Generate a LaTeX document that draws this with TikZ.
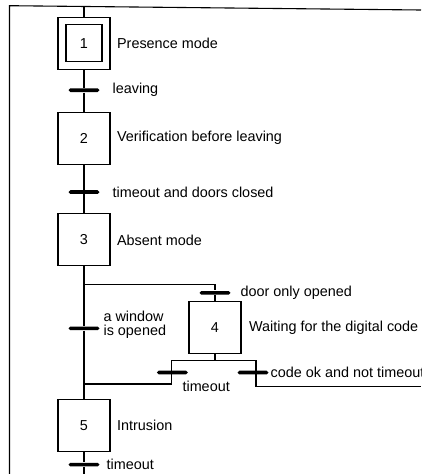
\documentclass[tikz,border=0pt]{standalone}
\usepackage{fontspec}
\setmainfont{Liberation Sans}
\usetikzlibrary{positioning}

\begin{document}
\begin{tikzpicture}[
  x=1pt, y=1pt,
  line width=1.1pt,
  every node/.style={font=\fontsize{14.4}{14.4}\selectfont},
  stepbox/.style={draw, minimum width=52pt, minimum height=52pt, inner sep=0pt},
  innerbox/.style={draw, minimum width=36pt, minimum height=37pt, inner sep=0pt},
  tbar/.style={fill, minimum width=31pt, minimum height=3.6pt, inner sep=0pt, rounded corners=1.8pt},
  txt/.style={inner sep=0pt, align=left}
]
\useasboundingbox (0,0) rectangle (421,-474);
\clip (0,0) rectangle (421,-474);

% steps and transitions
\node[stepbox] (s1) at (84,-43.3) {};
\node[innerbox] (s1i) at (s1) {1};
\node[tbar, below=18pt of s1] (t1) {};
\node[stepbox, below=19pt of t1] (s2) {2};
\node[tbar, below=25pt of s2] (t2) {};
\node[stepbox, below=19pt of t2] (s3) {3};
\node[tbar, below=59.5pt of s3] (tw) {};
\node[stepbox, below=68pt of tw] (s5) {5};
\node[tbar, below=10.5pt of s5] (t5) {};
\node[stepbox] (s4) at (215,-327.7) {4};
\node[tbar, above=6pt of s4] (td) {};
\node[tbar] (tto) at (172.3,-372.5) {};
\node[tbar] (tok) at (253,-372.5) {};

% texts
\node[txt, right=6pt of s1] (l1) {Presence mode};
\node[txt, right=12pt of t1] (lt1) {leaving};
\node[txt, right=6pt of s2] (l2) {Verification before leaving};
\node[txt, right=12pt of t2] (lt2) {timeout and doors closed};
\node[txt, right=6pt of s3] (l3) {Absent mode};
\node[txt, right=9pt of td] (ltd) {door only opened};
\node[txt, right=3pt of tw, yshift=3.3pt] (ltw) {a window\\is opened};
\node[txt, right=7pt of s4] (l4) {Waiting for the digital code};
\node[txt, anchor=base west] (lto) at (182,-391.5) {timeout};
\node[txt, right=1pt of tok] (lok) {code ok and not timeout};
\node[txt, right=6pt of s5] (l5) {Intrusion};
\node[txt, right=6pt of t5] (lt5) {timeout};

% corner points
\coordinate (top) at (84,-6.5);
\coordinate (tl) at (9.5,-5.7);
\coordinate (tr) at (421,-10);
\coordinate (bl) at (9.5,-474);
\coordinate (bot) at (84,-474);
\coordinate (d3) at (84,-284.7);
\coordinate (d4) at (215,-284.7);
\coordinate (j4) at (215,-360.5);
\coordinate (j4l) at (171.7,-360.5);
\coordinate (j4r) at (256,-360.5);
\coordinate (m5) at (84,-384);
\coordinate (okr) at (421,-386.7);

% links
\draw (bl) -- (tl) -- (tr);
\draw (top) -- (s1);
\draw (s1) -- (t1) -- (s2) -- (t2) -- (s3) -- (tw) -- (s5) -- (t5) -- (bot);
\draw (d3) -- (d4) -- (td) -- (s4);
\draw (s4) -- (j4);
\draw (m5) -| (j4l) -- (j4r) |- (okr);
\end{tikzpicture}
\end{document}
